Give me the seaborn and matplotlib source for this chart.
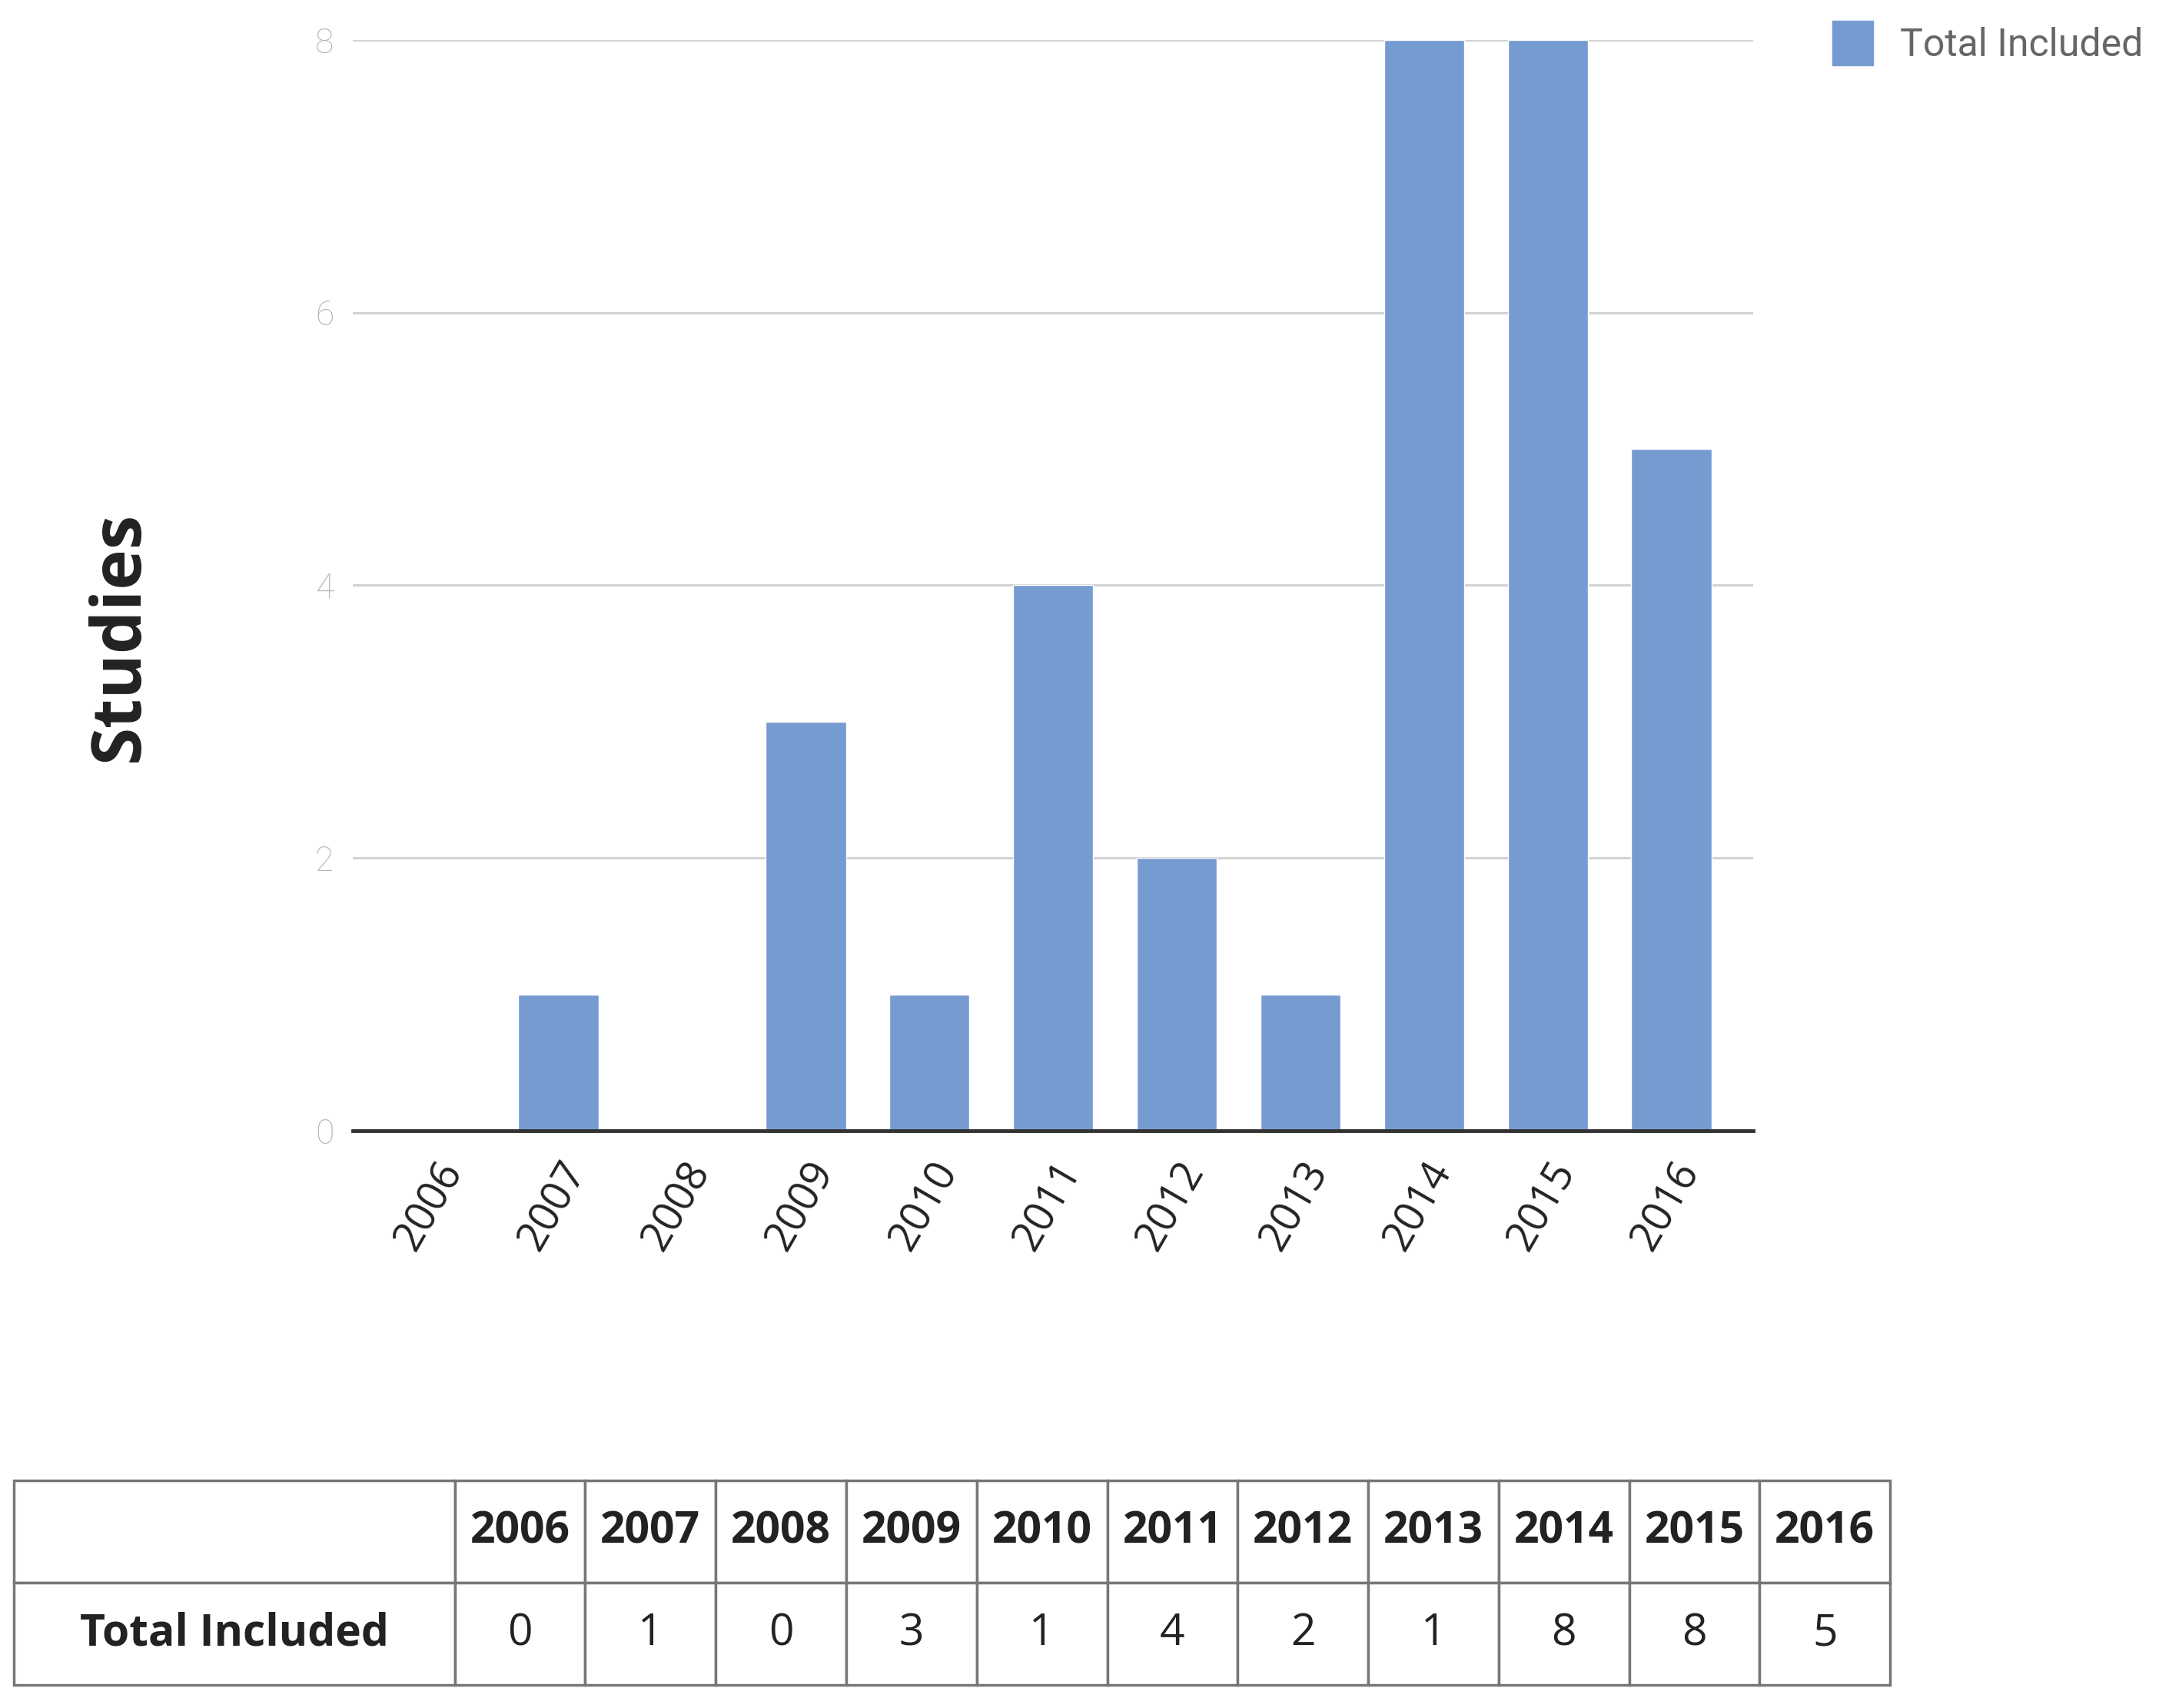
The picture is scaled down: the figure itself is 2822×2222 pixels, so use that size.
import matplotlib
matplotlib.use('Agg')
import matplotlib.pyplot as plt
import matplotlib.patches as mpatches
import seaborn as sns
import pandas as pd

# Data
years = ['2006', '2007', '2008', '2009', '2010', '2011', '2012', '2013', '2014', '2015', '2016']
total_included = [0, 1, 0, 3, 1, 4, 2, 1, 8, 8, 5]
series_name = 'Total Included'
y_ticks = [0, 2, 4, 6, 8]

bar_color = '#769bd1'

sns.set_theme(style='white')
plt.rcParams['font.family'] = ['Open Sans', 'DejaVu Sans']

df = pd.DataFrame({'year': years, 'count': total_included})

fig = plt.figure(figsize=(28.22, 22.22), dpi=100)
ax = fig.add_axes([0.1627, 0.338, 0.6456, 0.6386])

sns.barplot(data=df, x='year', y='count', color=bar_color, width=0.65,
            saturation=1, ax=ax)

ax.set_xlim(-0.66, 10.66)
ax.set_ylim(0, 8)
ax.set_yticks(y_ticks)
ax.yaxis.grid(True, color='#d3d3d3', linewidth=2.2)
ax.set_axisbelow(True)
for side in ['top', 'right', 'left']:
    ax.spines[side].set_visible(False)
ax.spines['bottom'].set_color('#333333')
ax.spines['bottom'].set_linewidth(3.5)
ax.spines['bottom'].set_zorder(5)

ax.tick_params(axis='y', length=0, pad=18, labelsize=32, labelcolor='#b3b3b3')
ax.tick_params(axis='x', length=0, pad=22, labelsize=39, labelcolor='#222222')
for lab in ax.get_yticklabels():
    lab.set_fontfamily(['Roboto', 'DejaVu Sans'])
    lab.set_fontweight('light')
for lab in ax.get_xticklabels():
    lab.set_rotation(60)
    lab.set_ha('right')
    lab.set_rotation_mode('anchor')

ax.set_xlabel('')
ax.set_ylabel('Studies', fontsize=64, fontweight='bold', color='#222222')
ax.yaxis.set_label_coords(-0.141, 0.453)

# Legend
handle = mpatches.Patch(color=bar_color, label=series_name)
fig.legend(handles=[handle], loc='upper left', bbox_to_anchor=(0.829, 1.008),
           frameon=False, handlelength=1.05, handleheight=1.4, handletextpad=0.7,
           prop={'family': ['Roboto', 'DejaVu Sans'], 'size': 36},
           labelcolor='#666666')

# Data table underneath
tax = fig.add_axes([0.0064, 0.0135, 0.865, 0.1197])
tax.axis('off')
cell_text = [[''] + years, [series_name] + [str(v) for v in total_included]]
first_w = 0.235
other_w = (1 - first_w) / len(years)
tbl = tax.table(cellText=cell_text, cellLoc='center', bbox=[0, 0, 1, 1],
                colWidths=[first_w] + [other_w] * len(years))
tbl.auto_set_font_size(False)
for (r, c), cell in tbl.get_celld().items():
    cell.set_edgecolor('#777777')
    cell.set_linewidth(2.5)
    txt = cell.get_text()
    txt.set_fontsize(41)
    txt.set_color('#222222')
    if r == 0 or c == 0:
        txt.set_fontweight('bold')

fig.savefig('out.png', dpi=100, facecolor='white')
